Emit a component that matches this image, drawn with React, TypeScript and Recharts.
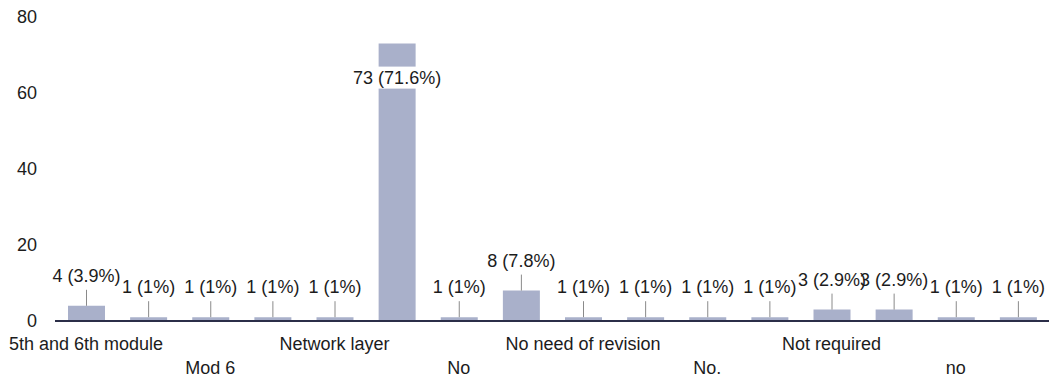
import React from 'react';
import { BarChart, Bar, XAxis, YAxis, LabelList } from 'recharts';

const categories = [
  '5th and 6th module', 'Mod 5', 'Mod 6', 'NA', 'Network layer', 'Nil',
  'No', 'No changes', 'No need of revision', 'No suggestion', 'No.', 'None',
  'Not required', 'Nothing', 'no', 'nil',
];
const counts = [4, 1, 1, 1, 1, 73, 1, 8, 1, 1, 1, 1, 3, 3, 1, 1];
const yTicks = [0, 20, 40, 60, 80];

const total = counts.reduce((a, b) => a + b, 0);
const maxCount = Math.max(...counts);
const data = categories.map((name, i) => ({ name, value: counts[i] }));

const FONT = '"Liberation Sans", Arial, sans-serif';
const TEXT = '#1c1c1c';

const fmtPct = (v: number) => {
  const s = ((v / total) * 100).toFixed(1);
  return s.endsWith('.0') ? s.slice(0, -2) : s;
};

const XTick = (props: any) => {
  const { x, y, payload, index } = props;
  if (index % 2 !== 0) return null;
  const row2 = index % 4 === 2;
  return (
    <text x={x} y={y + (row2 ? 53 : 29)} textAnchor="middle" fontFamily={FONT} fontSize={18} fill={TEXT}>
      {payload.value}
    </text>
  );
};

const ValueLabel = (props: any) => {
  const { x, y, width, value } = props;
  const cx = x + width / 2;
  const text = `${value} (${fmtPct(value)}%)`;
  if (value === maxCount) {
    const c = y + 34;
    return (
      <g>
        <rect x={cx - 22} y={c - 11} width={70} height={22} fill="#ffffff" />
        <text x={cx} y={c + 6} textAnchor="middle" fontFamily={FONT} fontSize={18} fill={TEXT}>{text}</text>
      </g>
    );
  }
  const c = y - 30;
  return (
    <g>
      <line x1={cx} x2={cx} y1={c + 14} y2={y} stroke="#8a8a8a" strokeWidth={1} />
      <text x={cx} y={c + 6} textAnchor="middle" fontFamily={FONT} fontSize={18} fill={TEXT}>{text}</text>
    </g>
  );
};

export default function App() {
  return (
    <div style={{ position: 'absolute', left: 0, top: 0, background: '#fff' }}>
      <BarChart width={1061} height={383} data={data} margin={{ top: 17, right: 12, bottom: 7, left: 0 }} barSize={37}>
        <YAxis
          domain={[0, 80]}
          ticks={yTicks}
          axisLine={false}
          tickLine={false}
          tickSize={0}
          tickMargin={18}
          width={55}
          tick={{ fontFamily: FONT, fontSize: 18, fill: TEXT }}
        />
        <XAxis
          dataKey="name"
          interval={0}
          height={55}
          tickLine={false}
          tickSize={0}
          tickMargin={0}
          axisLine={{ stroke: '#2b2e48', strokeWidth: 2 }}
          tick={<XTick />}
        />
        <Bar dataKey="value" fill="#a9b0ca" isAnimationActive={false}>
          <LabelList dataKey="value" content={<ValueLabel />} />
        </Bar>
      </BarChart>
    </div>
  );
}
